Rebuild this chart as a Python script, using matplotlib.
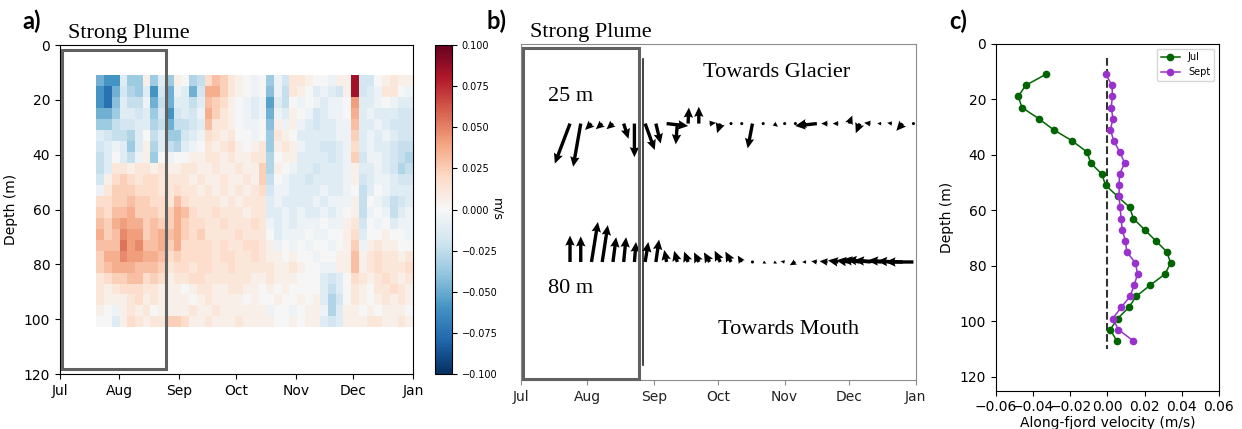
import numpy as np
import pandas as pd
import matplotlib
matplotlib.use("Agg")
import matplotlib.pyplot as plt
import matplotlib.dates as mdates
import matplotlib.transforms as mtransforms
from matplotlib.patches import Rectangle

# ---------------- data ----------------
# (a) along-fjord velocity section: 23 depth bins (11-103 m, 4 m) x 41 time bins (Jul 20 - Jan 1)
LEVELS = {'0': 0.0, '1': 0.006, '2': 0.012, '3': 0.018, '4': 0.024, '5': 0.03, '6': 0.036,
          '7': 0.042, '8': 0.048, '9': 0.054, 'R': 0.085,
          'a': -0.006, 'b': -0.012, 'c': -0.018, 'd': -0.024, 'e': -0.03, 'f': -0.036,
          'g': -0.042, 'h': -0.048, 'i': -0.054, 'j': -0.06, 'k': -0.066, 'l': -0.075}
HEAT_ROWS = [
    "hjjbff1fbf10ed354210a0" "fac22100a11Rcc01211",
    "jlhcefbjchabhc664210a0" "gad210babc1Rcba220a",
    "jlgbddahdhbbdb54310aba" "ibd0a0abaa07bba0abb",
    "hhfbbcbfcjcbca64210aba" "hab10acbaa06babbbcc",
    "ffdccbbedhddcb52210aa0" "g1a1abcbbaa5bbabccc",
    "bcddeb0dbffcba321200a0" "f210bbbbbaa4bababcc",
    "cbabfb1ebdeba021231012" "f121abbccba3babbcdd",
    "db0bda1f0a001122121122" "e011bbbbcba4caabcde",
    "db22122121122112112114" "e10abbcbbba1bbabced",
    "c134323322221211211214" "d0abbcbbbba1cbaabcc",
    "a244433322322121212123" "caabbbbabba0db0abbb",
    "3344544332532222121222" "babbbbabaaa1d0abdcb",
    "4355644434653223222122" "bbababbaba01da0adba",
    "5467664544643322322232" "ababaaa0aa12c0a0baa",
    "6458774565643422223222" "0baaa0aa0013b00100a",
    "5559785564633332322332" "1a0a0a00a014a121100",
    "4668776653433332332232" "110100a001151232212",
    "4566655542332332232222" "2112100aa1151232223",
    "2344553431223322222211" "2111000bcb032123212",
    "2123332211101221122110" "1010000bdb021022321",
    "2111231211110121111010" "0100101bec021012121",
    "10a121201111211211111" "1" "a00a011aeb110101110",
    "00b1321224431121112111" "1001011bcb111221121",
]
HEAT_START = "2019-07-20"
HEAT_END = "2020-01-01"
HEAT_DEPTH_EDGES = list(range(11, 104, 4))

# (b) 5-day mean velocity vectors at 25 m and 80 m
ARROW_START = "2019-07-24"
N_ARROWS = 33
U25 = [-0.019, -0.0095, -0.008, -0.008, -0.008, 0.006, 0.0, 0.012, 0.006, 0.027, -0.002,
       0.001, 0.0, 0.008, -0.004, 0.002, -0.002, -0.006, 0.001, 0.005, 0.001, -0.003,
       -0.012, -0.027, -0.008, -0.007, 0.004, -0.005, -0.008, -0.005, -0.006, -0.008, 0.001]
V25 = [-0.05, -0.054, -0.008, -0.007, -0.007, -0.019, -0.042, -0.033, -0.025, -0.003, -0.026,
       0.02, 0.021, 0.001, -0.012, -0.003, 0.002, -0.031, 0.0, -0.004, 0.001, -0.001,
       -0.002, -0.003, 0.0, 0.0, 0.010, -0.012, 0.001, 0.0, 0.001, -0.009, 0.0]
U80 = [0.0, 0.0, 0.008, 0.007, 0.004, 0.003, 0.002, 0.004, 0.004, -0.003, -0.004,
       -0.005, -0.006, -0.007, -0.007, -0.007, -0.005, 0.0005, 0.004, 0.004, -0.005, -0.007,
       -0.005, -0.007, -0.010, -0.013, -0.016, -0.022, -0.030, -0.034, -0.030, -0.032, -0.035]
V80 = [0.033, 0.032, 0.05, 0.046, 0.031, 0.031, 0.025, 0.025, 0.028, 0.015, 0.014,
       0.013, 0.012, 0.012, 0.014, 0.013, 0.008, 0.0, -0.002, -0.002, 0.001, -0.004,
       0.0, 0.001, 0.001, 0.002, 0.002, 0.003, 0.003, 0.002, 0.002, 0.001, 0.0]

# (c) mean profiles
DEPTHS = [11, 15, 19, 23, 27, 31, 35, 39, 43, 47, 51, 55, 59, 63, 67, 71, 75, 79, 83, 87,
          91, 95, 99, 103, 107]
JUL = [-0.033, -0.044, -0.048, -0.046, -0.037, -0.029, -0.019, -0.011, -0.009, -0.003,
       -0.001, 0.0055, 0.012, 0.014, 0.020, 0.026, 0.032, 0.034, 0.031, 0.023, 0.0155,
       0.0115, 0.0055, 0.0015, 0.005]
SEPT = [-0.001, 0.0025, 0.0027, 0.002, 0.003, 0.0016, 0.0034, 0.0066, 0.0093, 0.0065,
        0.0063, 0.0063, 0.0068, 0.0074, 0.0079, 0.0097, 0.0104, 0.0151, 0.0162, 0.0144,
        0.0122, 0.0074, 0.0029, 0.0059, 0.0138]

PLUME_START = "2019-07-02"
PLUME_END = "2019-08-25 06:00"
XMIN, XMAX = "2019-07-01", "2020-01-01"

SERIF = "Liberation Serif"
LETTER = ["Lato", "DejaVu Sans"]


def dnum(s):
    return mdates.date2num(pd.Timestamp(s).to_pydatetime())


fig = plt.figure(figsize=(12.42, 4.29), dpi=100)
ax_a = fig.add_axes([0.0483, 0.1282, 0.2842, 0.7669])
cax = fig.add_axes([0.3502, 0.1282, 0.0137, 0.7669])
ax_b = fig.add_axes([0.4192, 0.1142, 0.3180, 0.7825])
ax_c = fig.add_axes([0.8019, 0.0893, 0.1795, 0.8089])

# ---------------- (a) ----------------
vals = np.array([[LEVELS[ch] for ch in row] for row in HEAT_ROWS])
t_edges = mdates.date2num(pd.date_range(HEAT_START, HEAT_END, periods=vals.shape[1] + 1).to_pydatetime())
mesh = ax_a.pcolormesh(t_edges, HEAT_DEPTH_EDGES, vals, cmap="RdBu_r", vmin=-0.1, vmax=0.1,
                       shading="flat")
ax_a.set_ylim(120, 0)
ax_a.set_yticks(np.arange(0, 121, 20))
ax_a.set_ylabel("Depth (m)", fontsize=10)

for ax in (ax_a, ax_b):
    ax.set_xlim(dnum(XMIN), dnum(XMAX))
    ax.xaxis.set_major_locator(mdates.MonthLocator())
    ax.xaxis.set_major_formatter(mdates.DateFormatter("%b"))
    ax.tick_params(labelsize=10)

cb = fig.colorbar(mesh, cax=cax)
cb.set_ticks(np.arange(-0.1, 0.1001, 0.025))
cb.ax.tick_params(labelsize=7)
cb.set_label("m/s", rotation=270, fontsize=9, labelpad=4)

# plume rectangles
x0, x1 = dnum(PLUME_START), dnum(PLUME_END)
ta = mtransforms.blended_transform_factory(ax_a.transData, ax_a.transAxes)
ax_a.add_patch(Rectangle((x0, 0.0143), x1 - x0, 0.969, transform=ta, fill=False,
                         edgecolor="#616161", lw=2.2, zorder=5, clip_on=False))

# ---------------- (b) ----------------
arrow_t = mdates.date2num(pd.date_range(ARROW_START, periods=N_ARROWS, freq="5D").to_pydatetime())
qkw = dict(angles="uv", scale_units="inches", scale=0.125, pivot="tail", width=0.0085,
           headwidth=2.8, headlength=3.0, headaxislength=2.7, color="k", zorder=3)
ax_b.quiver(arrow_t, np.full(N_ARROWS, 25.0), U25, V25, **qkw)
ax_b.quiver(arrow_t, np.full(N_ARROWS, 80.0), U80, V80, **qkw)
ax_b.set_ylim(126.9, -6.5)
ax_b.set_yticks([])
for s in ax_b.spines.values():
    s.set_color("#8c8c8c")
ax_b.tick_params(axis="x", colors="#8c8c8c", labelcolor="#222222")

tb = mtransforms.blended_transform_factory(ax_b.transData, ax_b.transAxes)
ax_b.add_patch(Rectangle((x0, 0.003), x1 - x0, 0.9866, transform=tb, fill=False,
                         edgecolor="#616161", lw=2.2, zorder=5, clip_on=False))
ax_b.axvline(dnum("2019-08-26 19:00"), ymin=0.045, ymax=0.956, color="#222222", lw=1.2)

ax_b.text(0.648, 0.915, "Towards Glacier", transform=ax_b.transAxes, ha="center", va="center",
          fontsize=16, family=SERIF)
ax_b.text(0.679, 0.149, "Towards Mouth", transform=ax_b.transAxes, ha="center", va="center",
          fontsize=16, family=SERIF)
ax_b.text(0.069, 0.846, "25 m", transform=ax_b.transAxes, ha="left", va="center",
          fontsize=16, family=SERIF)
ax_b.text(0.069, 0.274, "80 m", transform=ax_b.transAxes, ha="left", va="center",
          fontsize=16, family=SERIF)

# ---------------- (c) ----------------
ax_c.vlines(0, 5, 110, colors="#333333", linestyles="--", lw=1.5)
ax_c.plot(JUL, DEPTHS, "-o", color="#006400", ms=4.5, lw=1.1, label="Jul")
ax_c.plot(SEPT, DEPTHS, "-o", color="#9932CC", ms=4.5, lw=1.1, label="Sept")
ax_c.set_xlim(-0.06, 0.06)
ax_c.set_xticks(np.arange(-0.06, 0.0601, 0.02))
ax_c.set_ylim(125, 0)
ax_c.set_yticks(np.arange(0, 121, 20))
ax_c.tick_params(labelsize=10)
ax_c.set_ylabel("Depth (m)", fontsize=10)
ax_c.set_xlabel("Along-fjord velocity (m/s)", fontsize=10, labelpad=1)
ax_c.legend(loc="upper right", fontsize=7, handlelength=2.0)

# ---------------- titles / letters ----------------
fig.text(68 / 1242, 1 - 37.7 / 429, "Strong Plume", fontsize=16, family=SERIF, va="baseline")
fig.text(530 / 1242, 1 - 37.3 / 429, "Strong Plume", fontsize=16, family=SERIF, va="baseline")
fig.text(22 / 1242, 1 - 29.5 / 429, "a)", fontsize=17, fontweight="bold", family=LETTER, va="baseline")
fig.text(487 / 1242, 1 - 29.5 / 429, "b)", fontsize=17, fontweight="bold", family=LETTER, va="baseline")
fig.text(949 / 1242, 1 - 29.5 / 429, "c)", fontsize=17, fontweight="bold", family=LETTER, va="baseline")

fig.savefig("out.png", dpi=100)
